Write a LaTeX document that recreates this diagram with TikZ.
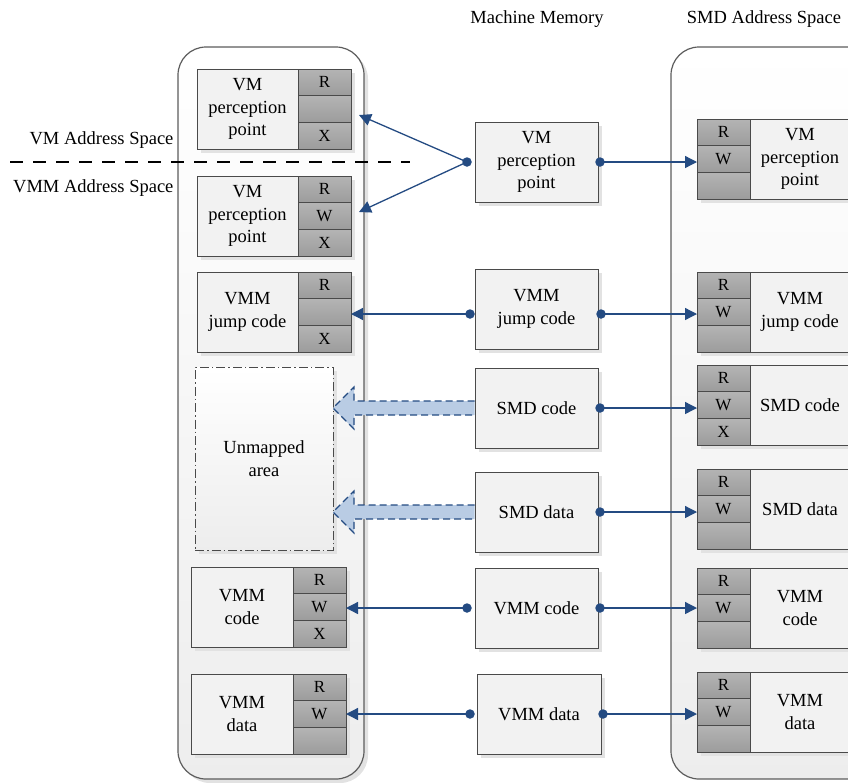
\documentclass[tikz,border=0pt]{standalone}
\usepackage{fontspec}
\setmainfont{Liberation Serif}
\usetikzlibrary{arrows.meta,calc}

\definecolor{linkblue}{HTML}{244B82}
\definecolor{boxfill}{HTML}{F2F2F2}
\definecolor{permtop}{HTML}{B4B4B4}
\definecolor{permbot}{HTML}{9C9C9C}
\definecolor{edgegray}{HTML}{4A4A4A}
\definecolor{fatfill}{HTML}{B9CCE4}
\definecolor{shadowgray}{HTML}{E2E2E2}

\tikzset{
  container/.style={draw=edgegray!90, line width=1.2pt, rounded corners=28pt,
    top color=white, bottom color=black!7},
  boxshadow/.style={fill=shadowgray},
  labelbox/.style={draw=edgegray, fill=boxfill, line width=0.9pt, inner sep=2pt,
    outer sep=0pt, align=center, minimum height=80pt},
  permcell/.style={draw=edgegray, top color=permtop, bottom color=permbot,
    line width=0.9pt, inner sep=0pt, outer sep=0pt, minimum width=53pt,
    minimum height=26.667pt, font=\fontsize{17}{19}\selectfont},
  membox/.style={draw=edgegray, fill=boxfill, line width=0.9pt, outer sep=0pt,
    align=center, minimum height=80pt, anchor=north west},
  unmapped/.style={draw=edgegray, line width=1pt,
    dash pattern=on 9pt off 3pt on 1.5pt off 3pt,
    top color=white, bottom color=black!7, outer sep=0pt, align=center,
    anchor=north west},
  linkdot/.style={circle, fill=linkblue, inner sep=0pt, minimum size=9.5pt},
  link/.style={draw=linkblue, line width=1.3pt,
    -{Triangle[length=12pt,width=12pt]}},
  fatarrow/.style={fill=fatfill, draw=linkblue, line width=1.1pt,
    dash pattern=on 7pt off 4pt},
  divider/.style={draw=black, line width=1.2pt, dash pattern=on 13pt off 10pt},
}

% permission box on the VM/VMM side: label on the left, R/W/X column on the right
% #1 name, #2 x, #3 y, #4 label width, #5 label, #6-#8 cell texts
\newcommand{\addrleft}[8]{%
  \fill[boxshadow] ({#2+4},{#3+4}) rectangle ({#2+#4+53+4},{#3+84});
  \node[labelbox, minimum width=#4pt, anchor=north west] (#1) at (#2,#3) {#5};
  \node[permcell, anchor=north west] (#1-r) at (#1.north east) {#6};
  \node[permcell, anchor=north] (#1-w) at (#1-r.south) {#7};
  \node[permcell, anchor=north] (#1-x) at (#1-w.south) {#8};
}
% permission box on the SMD side: R/W/X column on the left, label on the right
% #1 name, #2 x, #3 y, #4 label, #5-#7 cell texts
\newcommand{\addrright}[7]{%
  \fill[boxshadow] ({#2+4},{#3+4}) rectangle ({#2+153+4},{#3+84});
  \node[permcell, anchor=north west] (#1-r) at (#2,#3) {#5};
  \node[permcell, anchor=north] (#1-w) at (#1-r.south) {#6};
  \node[permcell, anchor=north] (#1-x) at (#1-w.south) {#7};
  \node[labelbox, minimum width=100pt, anchor=north west] (#1) at (#1-r.north east) {#4};
}
% box in the machine memory column
% #1 name, #2 x, #3 y, #4 width, #5 label
\newcommand{\membox}[5]{%
  \fill[boxshadow] ({#2+4},{#3+4}) rectangle ({#2+#4+4},{#3+84});
  \node[membox, minimum width=#4pt] (#1) at (#2,#3) {#5};
}

\begin{document}
\begin{tikzpicture}[x=1pt, y=-1pt, font=\fontsize{18.5}{22.5}\selectfont]
\useasboundingbox (0,0) rectangle (848,782);
\clip (0,0) rectangle (848,782);

% column headings
\node (mmhead) at (537,19) {Machine Memory};
\node (smdhead) at (764,19) {SMD Address Space};

% address space containers
\fill[shadowgray] (182,51) [rounded corners=28pt] rectangle (368,783);
\path[container] (178,47) rectangle (364,779);
\path[container] (671,47) rectangle (910,779);

% split between VM and VMM address spaces
\node[anchor=east] (vmas) at (177,140) {VM Address Space};
\node[anchor=east] (vmmas) at (177,188) {VMM Address Space};
\coordinate (divl) at (10,162);
\coordinate (divr) at (410,162);
\draw[divider] (divl) -- (divr);

% VM / VMM address space
\addrleft{l1}{197}{69}{101}{VM\\perception\\point}{R}{}{X}
\addrleft{l2}{197}{176}{101}{VM\\perception\\point}{R}{W}{X}
\addrleft{l3}{197}{272}{101}{VMM\\jump code}{R}{}{X}
\fill[boxshadow] (199,371) rectangle (337,554);
\node[unmapped, minimum width=138pt, minimum height=183pt] (um) at (195,367) {Unmapped\\area};
\addrleft{l5}{191}{567}{102}{VMM\\code}{R}{W}{X}
\addrleft{l6}{191}{674}{102}{VMM\\data}{R}{W}{}

% machine memory
\membox{m1}{475}{122}{123}{VM\\perception\\point}
\membox{m2}{475}{269}{123}{VMM\\jump code}
\membox{m3}{475}{368}{123}{SMD code}
\membox{m4}{475}{472}{123}{SMD data}
\membox{m5}{475}{568}{123}{VMM code}
\membox{m6}{477}{674}{124}{VMM data}

% SMD address space
\addrright{r1}{697}{119}{VM\\perception\\point}{R}{W}{}
\addrright{r2}{697}{272}{VMM\\jump code}{R}{W}{}
\addrright{r3}{697}{365}{SMD code}{R}{W}{X}
\addrright{r4}{697}{469}{SMD data}{R}{W}{}
\addrright{r5}{697}{568}{VMM\\code}{R}{W}{}
\addrright{r6}{697}{672}{VMM\\data}{R}{W}{}

% unmapped SMD regions
\draw[fatarrow] ($(m3.west)+(-0.5,-7)$) -- ($(um.east|-m3.west)+(21,-7)$)
  -- ++(0,-14) -- (um.east|-m3.west) -- ++(21,21) -- ++(0,-14)
  -- ($(m3.west)+(-0.5,7)$);
\draw[fatarrow] ($(m4.west)+(-0.5,-7)$) -- ($(um.east|-m4.west)+(21,-7)$)
  -- ++(0,-14) -- (um.east|-m4.west) -- ++(21,21) -- ++(0,-14)
  -- ($(m4.west)+(-0.5,7)$);

% connector end points
\coordinate (m1l) at ($(m1.west)+(-8,0)$);
\coordinate (m1r) at ($(m1.east)+(2,0)$);
\coordinate (m2l) at ($(m2.west)+(-5,5)$);
\coordinate (m2r) at ($(m2.east)+(3,5)$);
\coordinate (m3r) at ($(m3.east)+(2,0)$);
\coordinate (m4r) at ($(m4.east)+(2,0)$);
\coordinate (m5l) at ($(m5.west)+(-8,0)$);
\coordinate (m5r) at ($(m5.east)+(2,0)$);
\coordinate (m6l) at ($(m6.west)+(-7,0)$);
\coordinate (m6r) at ($(m6.east)+(2,0)$);
\coordinate (l1in) at ($(l1-w.east)+(8,6)$);
\coordinate (l2in) at ($(l2-w.east)+(8,-4)$);

% mappings
\draw[link] (m1l) -- (l1in);
\draw[link] (m1l) -- (l2in);
\draw[link] (m1r) -- (m1r -| r1-w.west);
\draw[link] (m2l) -- (m2l -| l3-w.east);
\draw[link] (m2r) -- (m2r -| r2-w.west);
\draw[link] (m3r) -- (m3r -| r3-w.west);
\draw[link] (m4r) -- (m4r -| r4-w.west);
\draw[link] (m5l) -- (m5l -| l5-w.east);
\draw[link] (m5r) -- (m5r -| r5-w.west);
\draw[link] (m6l) -- (m6l -| l6-w.east);
\draw[link] (m6r) -- (m6r -| r6-w.west);

\foreach \p in {m1l,m1r,m2l,m2r,m3r,m4r,m5l,m5r,m6l,m6r}
  \node[linkdot] (dot-\p) at (\p) {};
\end{tikzpicture}
\end{document}
